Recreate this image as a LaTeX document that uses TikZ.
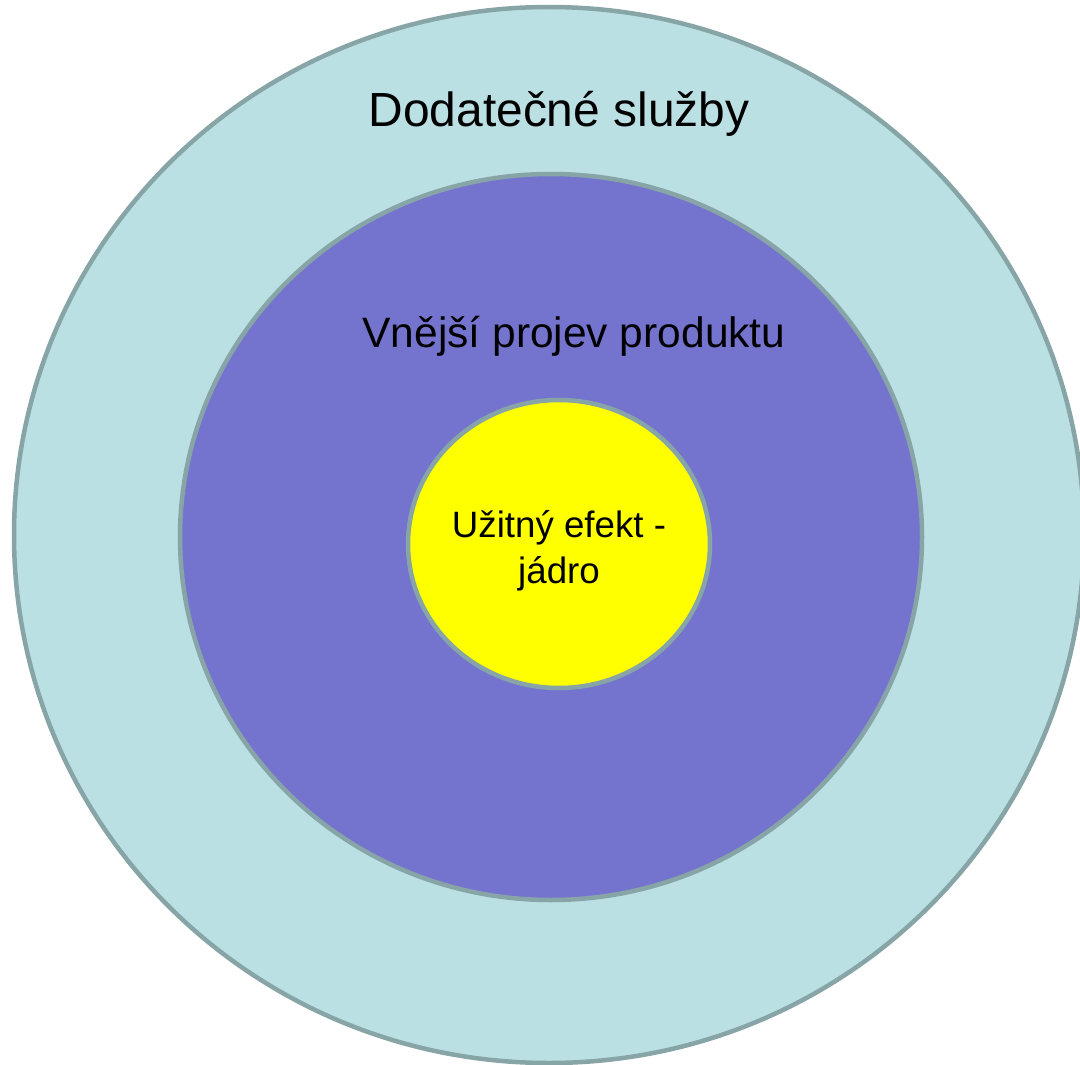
\documentclass[tikz,border=0pt]{standalone}
\usepackage{fontspec}
\setmainfont{Liberation Sans}
\usetikzlibrary{shapes.geometric}
\definecolor{ringline}{HTML}{87A4A6}
\definecolor{outerfill}{HTML}{BAE0E3}
\definecolor{midfill}{HTML}{7474CF}
\definecolor{corefill}{HTML}{FFFF00}
\tikzset{
  ring/.style={ellipse, draw=ringline, line width=4.5pt, inner sep=0pt},
  label/.style={anchor=base, inner sep=0pt, text=black}
}
\begin{document}
\begin{tikzpicture}[x=1pt,y=-1pt]
  \useasboundingbox (0,0) rectangle (1080,1065);
  \clip (0,0) rectangle (1080,1065);
  % nested rings
  \node[ring, fill=outerfill, minimum width=1070pt, minimum height=1056pt] (outer) at (549,535) {};
  \node[ring, fill=midfill, minimum width=742pt, minimum height=726pt] (middle) at (551,537) {};
  \node[ring, fill=corefill, minimum width=302pt, minimum height=288pt] (core) at (559,544) {};
  % ring labels
  \node[label, font=\fontsize{47.9}{54}\selectfont] (outertext) at (559,126) {Dodatečné služby};
  \node[label, font=\fontsize{42.5}{50}\selectfont] (midtext) at (574,347) {Vnější projev produktu};
  \node[label, font=\fontsize{36.7}{46}\selectfont] (coretext1) at (559,537) {Užitný efekt -};
  \node[label, font=\fontsize{36.7}{46}\selectfont] (coretext2) at (559,583) {jádro};
\end{tikzpicture}
\end{document}
